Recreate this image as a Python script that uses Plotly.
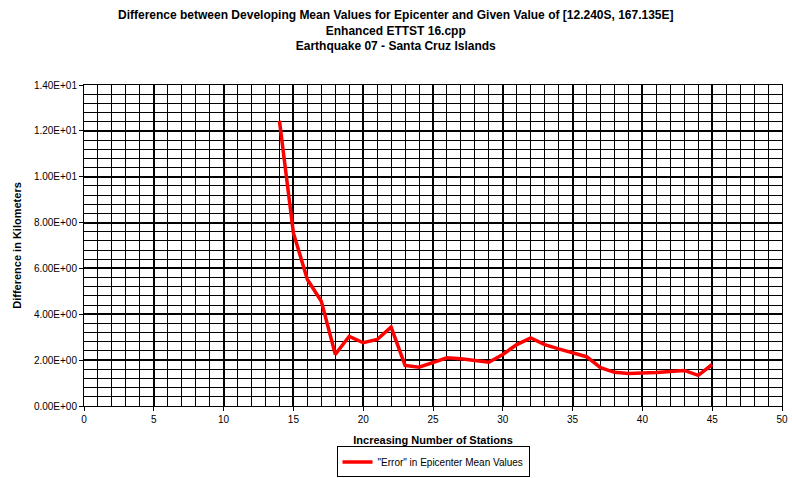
import plotly.graph_objects as go

stations = list(range(14, 46))
error_km = [12.44, 7.55, 5.52, 4.57, 2.25, 3.04, 2.76, 2.90, 3.44, 1.77, 1.69, 1.88,
            2.10, 2.06, 2.00, 1.91, 2.25, 2.68, 2.97, 2.68, 2.49, 2.32, 2.15, 1.67,
            1.47, 1.42, 1.43, 1.46, 1.50, 1.55, 1.34, 1.81]
y_ticks = [0, 2, 4, 6, 8, 10, 12, 14]
y_ticktext = [f"{v:.2E}" for v in y_ticks]
x_ticks = list(range(0, 51, 5))

title_lines = ["Difference between Developing Mean Values for Epicenter and Given Value of [12.240S, 167.135E]",
               "Enhanced ETTST 16.cpp",
               "Earthquake 07 - Santa Cruz Islands"]

W, H = 792, 478
ML, MR, MT, MB = 84, 10, 85, 71.5
pw, ph = W - ML - MR, H - MT - MB
plot_bottom = H - MB

fig = go.Figure()
fig.add_trace(go.Scatter(x=stations, y=error_km, mode="lines",
                         line=dict(color="#ff0000", width=3.5),
                         name='"Error" in Epicenter Mean Values'))

font_family = "Liberation Sans, Arial, sans-serif"
fig.update_layout(
    width=W, height=H,
    paper_bgcolor="white", plot_bgcolor="white",
    margin=dict(l=ML, r=MR, t=MT, b=MB, autoexpand=False),
    font=dict(family=font_family, size=10, color="black"),
    showlegend=True,
    legend=dict(orientation="h", x=0.5, xanchor="center",
                y=-(447 - plot_bottom) / ph, yanchor="top",
                bordercolor="black", borderwidth=1, font=dict(size=10),
                itemwidth=30, tracegroupgap=0),
    xaxis=dict(range=[0, 50], tickvals=x_ticks, ticktext=[str(v) for v in x_ticks],
               showgrid=True, gridcolor="black", gridwidth=2, automargin=False,
               minor=dict(dtick=1, showgrid=True, gridcolor="black", gridwidth=1),
               showline=True, linecolor="black", linewidth=1, mirror=True,
               ticks="outside", ticklen=4, tickcolor="black", zeroline=False,
               title=dict(text="<b>Increasing Number of Stations</b>", font=dict(size=11), standoff=12)),
    yaxis=dict(range=[0, 14], tickvals=y_ticks, ticktext=y_ticktext,
               showgrid=True, gridcolor="black", gridwidth=2, automargin=False,
               minor=dict(dtick=0.4, tick0=0, showgrid=True, gridcolor="black", gridwidth=1),
               showline=True, linecolor="black", linewidth=1, mirror=True,
               ticks="outside", ticklen=4, tickcolor="black", zeroline=False,
               title=dict(text="<b>Difference in Kilometers</b>", font=dict(size=11), standoff=10)),
    annotations=[dict(text="<b>" + "<br>".join(title_lines) + "</b>",
                      xref="paper", yref="paper",
                      x=(W / 2 - ML) / pw, xanchor="center",
                      y=1 + (MT - 6) / ph, yanchor="top",
                      showarrow=False, align="center",
                      font=dict(size=12, family=font_family))],
)

fig.write_html("out.html", config={"displayModeBar": False},
               post_script="document.body.style.margin='0';document.body.style.overflow='hidden';")
